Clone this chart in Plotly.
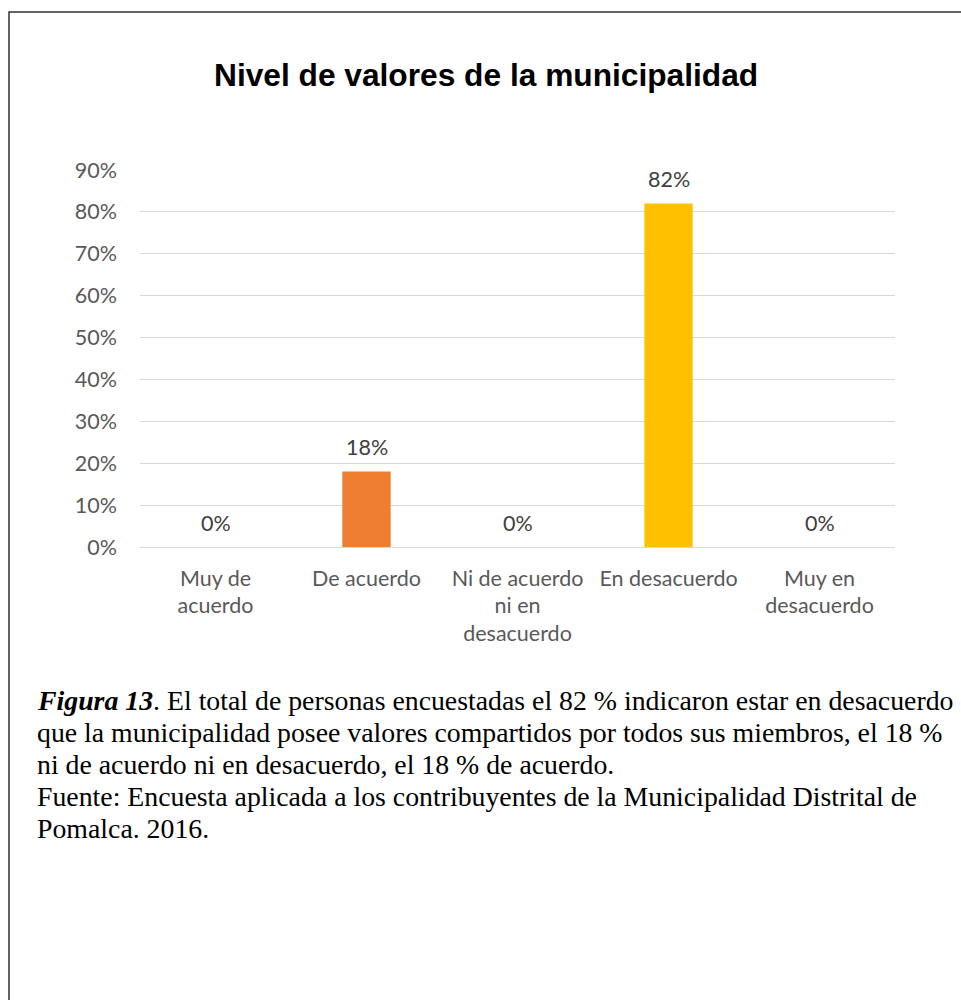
import plotly.graph_objects as go

# Survey results: level of shared values within the municipality
categories = [
    "Muy de<br>acuerdo",
    "De acuerdo",
    "Ni de acuerdo<br>ni en<br>desacuerdo",
    "En desacuerdo",
    "Muy en<br>desacuerdo",
]
shares = [0.0, 0.18, 0.0, 0.82, 0.0]
bar_colors = ["#4472C4", "#ED7D31", "#A5A5A5", "#FFC000", "#5B9BD5"]
y_ticks = [0.0, 0.1, 0.2, 0.3, 0.4, 0.5, 0.6, 0.7, 0.8, 0.9]

title_text = "Nivel de valores de la municipalidad"
caption_lines = [
    "<b><i>Figura 13</i></b>. El total de personas encuestadas el 82 % indicaron estar en desacuerdo",
    "que la municipalidad posee valores compartidos por todos sus miembros, el 18 %",
    "ni de acuerdo ni en desacuerdo, el 18 % de acuerdo.",
    "Fuente: Encuesta aplicada a los contribuyentes de la Municipalidad Distrital de",
    "Pomalca. 2016.",
]

W, H = 961, 1000
ML, MR, MT, MB = 140, 66, 170, 453
PW, PH = W - ML - MR, H - MT - MB

LABEL_FONT = "Lato, Carlito, sans-serif"


def px_x(x):
    return (x - ML) / PW


def px_y(y):
    return (H - MB - y) / PH


fig = go.Figure()
fig.add_trace(go.Bar(
    x=categories,
    y=shares,
    marker=dict(color=bar_colors, line=dict(width=0)),
    width=0.32,
    hoverinfo="skip",
))

annotations = []
# value labels above each bar
for c, v in zip(categories, shares):
    annotations.append(dict(
        x=c, y=v, xref="x", yref="y",
        text=f"{round(v * 100)}%",
        showarrow=False, yanchor="middle", yshift=24.5,
        font=dict(family=LABEL_FONT, size=21.5, color="#404040"),
    ))

# chart title
annotations.append(dict(
    x=px_x(486), y=px_y(75), xref="paper", yref="paper",
    text=f"<b>{title_text}</b>", showarrow=False,
    xanchor="center", yanchor="middle",
    font=dict(family="Liberation Sans, Arial, sans-serif", size=31.7, color="#000000"),
))

# figure caption below the chart
for i, line in enumerate(caption_lines):
    annotations.append(dict(
        x=px_x(35), y=px_y(700 + 32 * i), xref="paper", yref="paper",
        text=line, showarrow=False, xanchor="left", yanchor="middle",
        font=dict(family="Liberation Serif, Times New Roman, serif", size=27.8, color="#000000"),
    ))

shapes = [dict(
    type="rect", xref="paper", yref="paper",
    x0=px_x(9), x1=px_x(990), y0=px_y(1030), y1=px_y(12),
    line=dict(color="#303030", width=1.5), fillcolor="rgba(0,0,0,0)",
    layer="above",
)]

fig.update_layout(
    width=W, height=H,
    margin=dict(l=ML, r=MR, t=MT, b=MB, pad=0),
    paper_bgcolor="white", plot_bgcolor="white",
    showlegend=False,
    annotations=annotations,
    shapes=shapes,
    xaxis=dict(
        type="category",
        showgrid=False, showline=False, zeroline=False,
        ticks="", ticklabelstandoff=16,
        tickfont=dict(family=LABEL_FONT, size=21.5, color="#595959"),
    ),
    yaxis=dict(
        range=[0, 0.9],
        tickvals=y_ticks,
        tickformat=".0%",
        showgrid=True, gridcolor="#D9D9D9", gridwidth=1.4,
        zeroline=True, zerolinecolor="#D9D9D9", zerolinewidth=1.4,
        showline=False, ticks="", ticklabelstandoff=22,
        tickfont=dict(family=LABEL_FONT, size=21.5, color="#595959"),
    ),
)

fig.write_html("out.html")
